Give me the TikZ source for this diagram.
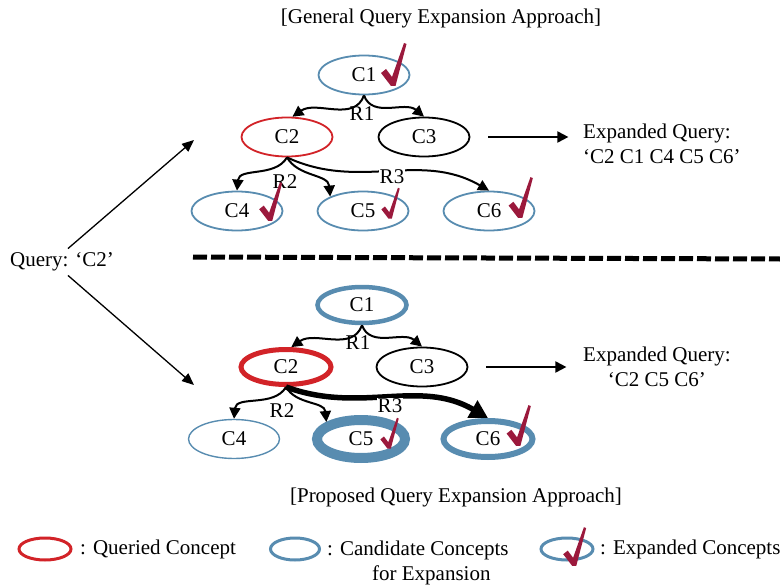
\documentclass[tikz,border=0pt]{standalone}
\usepackage{fontspec}
\setmainfont{Liberation Serif}
\usetikzlibrary{shapes.geometric,arrows.meta}
\definecolor{cblue}{RGB}{88,140,176}
\definecolor{cred}{RGB}{210,35,40}
\definecolor{cchk}{RGB}{155,25,60}
\newcommand\mychk[3]{\fill[cchk,shift={(#1,#2)},scale=#3] (-12,-12) .. controls (-10,-14) .. (-7,-16) -- (-1,-8) -- (11,-42) -- (13.5,-41) -- (2.5,1) -- (-2,1) -- cycle;}
\begin{document}
\begin{tikzpicture}[x=1pt,y=-1pt,
  every node/.style={font=\fontsize{21}{25}\selectfont},
  con/.style={ellipse,draw,inner sep=0pt,minimum width=91pt,minimum height=39pt,line width=1.8pt},
  cand/.style={con,draw=cblue},
  qry/.style={con,draw=cred},
  plain/.style={con,draw=black},
  arr/.style={line width=2pt,-{Triangle[length=11pt,width=11pt]}},
  bigarr/.style={line width=5.5pt,-{Triangle[length=18pt,width=19pt]}},
  qarr/.style={line width=1.3pt,-{Triangle[length=12pt,width=10pt]}},
  lab/.style={inner sep=1pt},
  wlab/.style={fill=white,inner sep=1pt},
  txt/.style={inner sep=0pt}
]
\useasboundingbox (0,0) rectangle (780,586);

% titles
\node[txt] (title1) at (441,18) {[General Query Expansion Approach]};
\node[txt] (title2) at (456,497) {[Proposed Query Expansion Approach]};

% query
\node[inner sep=4pt] (Q) at (62,262) {Query: ‘C2’};
\coordinate (qa) at (194,140);
\coordinate (qb) at (194,385);
\draw[qarr] ([xshift=6pt]Q.north) -- (qa);
\draw[qarr] ([xshift=6pt]Q.south) -- (qb);

% top tree
\node[cand] (t1) at (364,75) {C1};
\node[qry]  (t2) at (287,137) {C2};
\node[plain] (t3) at (424,137) {C3};
\node[cand] (t4) at (237,211) {C4};
\node[cand] (t5) at (363,211) {C5};
\node[cand] (t6) at (489,211) {C6};

\draw[arr] (t1.south) to[out=-110,in=35] (t2.75);
\draw[arr] (t1.south) to[out=-70,in=140] (t3.north);
\draw[arr] (t2.south) to[out=-120,in=85] (t4.north);
\draw[arr] (t2.south) to[out=-60,in=95] (t5.north west);
\draw[arr] (t2.south) to[out=-25,in=150] (t6.north);
\node[lab] (r1) at (362,114) {R1};
\node[lab] (r2) at (285,182) {R2};
\node[wlab] (r3) at (392,177) {R3};

\mychk{393}{85}{1}
\mychk{270}{220}{0.9}
\mychk{390}{218}{0.72}
\mychk{520}{217}{0.95}

\draw[arr] ([xshift=18pt]t3.east) -- ++(80,0);
\node[txt,anchor=west,align=left] (eq1) at (583,144) {Expanded Query:\\‘C2 C1 C4 C5 C6’};

% separator
\draw[line width=5pt,dash pattern=on 14pt off 4pt] (193,257) -- (780,259);

% bottom tree
\node[con,draw=cblue,line width=4.5pt,minimum width=89pt,minimum height=36pt] (b1) at (362,305) {C1};
\node[con,draw=cred,line width=5pt,minimum width=90pt,minimum height=35pt] (b2) at (286,367) {C2};
\node[plain] (b3) at (422,367) {C3};
\node[cand,line width=1.4pt] (b4) at (234,439) {C4};
\node[con,draw=cblue,line width=10pt,minimum width=88pt,minimum height=38pt] (b5) at (361,439) {C5};
\node[con,draw=cblue,line width=6pt,minimum width=89pt,minimum height=36pt] (b6) at (488,439) {C6};

\draw[arr] (b1.south) to[out=-110,in=35] (b2.75);
\draw[arr] (b1.south) to[out=-70,in=140] (b3.north);
\draw[arr] (b2.south) to[out=-120,in=85] (b4.north);
\draw[arr] (b2.south) to[out=-60,in=95] (b5.north west);
\draw[bigarr] (b2.south) to[out=-20,in=150] (b6.north);
\node[lab] (s1) at (358,343) {R1};
\node[lab] (s2) at (282,411) {R2};
\node[wlab] (s3) at (390,406) {R3};

\mychk{389}{448}{0.72}
\mychk{518}{445}{0.95}

\draw[arr] ([xshift=18pt]b3.east) -- ++(80,0);
\node[txt,anchor=west,align=center] (eq2) at (583,367) {Expanded Query:\\‘C2 C5 C6’};

% legend
\node[ellipse,draw=cred,line width=3pt,minimum width=52pt,minimum height=22pt,inner sep=0pt] (lq) at (45,549) {};
\node[txt,anchor=west] (lqt) at (80,549) {: Queried Concept};
\node[ellipse,draw=cblue,line width=3pt,minimum width=49pt,minimum height=22pt,inner sep=0pt] (lc) at (295,549) {};
\node[txt,anchor=west,align=left] (lct) at (327,563) {: Candidate Concepts\\\hspace*{45pt}for Expansion};
\node[ellipse,draw=cblue,line width=3pt,minimum width=52pt,minimum height=22pt,inner sep=0pt] (le) at (567,549) {};
\mychk{574}{565}{0.9}
\node[txt,anchor=west] (let) at (600,549) {: Expanded Concepts};
\end{tikzpicture}
\end{document}
